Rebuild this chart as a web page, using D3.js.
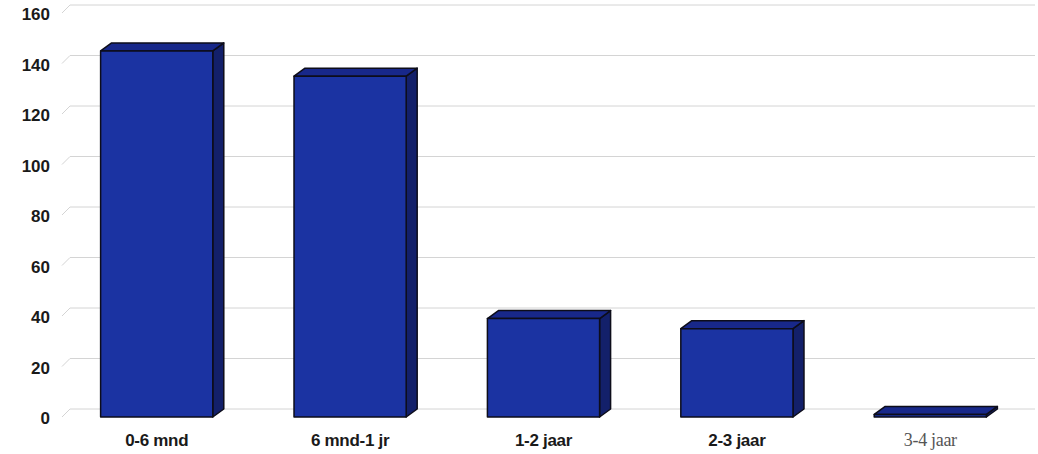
<!DOCTYPE html>
<html>
<head>
    <meta charset="utf-8">
    <title>3D Bar Chart</title>
    <style type="text/css">
        body {
            margin: 0;
            background: #fff;
        }
        .grid {
            fill: none;
            stroke: #d4d4d4;
            stroke-width: 1;
        }
        .ylabel {
            font-family: 'Liberation Sans', Arial, sans-serif;
            font-size: 17px;
            font-weight: 700;
            fill: #1a1a1a;
            text-anchor: end;
        }
        .xlabel {
            font-family: 'Liberation Sans', Arial, sans-serif;
            font-size: 17px;
            font-weight: 700;
            fill: #1a1a1a;
            text-anchor: middle;
            letter-spacing: -0.3px;
        }
        .bar path {
            stroke: #0d0d1a;
            stroke-width: 1.5;
            stroke-linejoin: round;
        }
    </style>
</head>
<body>
<script src="https://d3js.org/d3.v7.min.js"></script>
<script>

    var width = 1038,
        height = 454;

    // data
    var categories = ["0-6 mnd", "6 mnd-1 jr", "1-2 jaar", "2-3 jaar", "3-4 jaar"];
    var values = [145, 135, 39, 35, 1];
    var yTicks = [0, 20, 40, 60, 80, 100, 120, 140, 160];

    // 3d depth offset
    var dx = 11, dy = 8;
    var gdx = 8, gdy = 8;

    var x = d3.scaleBand()
        .domain(categories)
        .range([60, 1027])
        .paddingInner(0.42)
        .paddingOuter(0.21);

    var y = d3.scaleLinear()
        .domain([0, 160])
        .range([417, 13]);

    var svg = d3.select("body").append("svg")
        .attr("width", width)
        .attr("height", height);

    // gridlines (slanted front bit + back wall line)
    svg.append("g").selectAll("path")
        .data(yTicks).enter()
        .append("path")
        .attr("class", "grid")
        .attr("d", function (d) {
            var y0 = y(d);
            return "M62," + y0 + "L" + (62 + gdx) + "," + (y0 - gdy) + "H1035";
        });

    // y labels
    svg.append("g").selectAll("text")
        .data(yTicks).enter()
        .append("text")
        .attr("class", "ylabel")
        .attr("x", 50)
        .attr("y", function (d) { return y(d) + 1; })
        .attr("dy", "0.36em")
        .text(function (d) { return d; });

    // bars
    var bars = svg.append("g").selectAll("g")
        .data(values).enter()
        .append("g")
        .attr("class", "bar");

    function x0(d, i) { return x(categories[i]); }

    // side face
    bars.append("path")
        .attr("fill", "#13206a")
        .attr("d", function (d, i) {
            var xr = x0(d, i) + x.bandwidth(), yt = y(d), yb = y(0);
            return "M" + xr + "," + yb + "L" + xr + "," + yt +
                "L" + (xr + dx) + "," + (yt - dy) + "L" + (xr + dx) + "," + (yb - dy) + "Z";
        });

    // top face
    bars.append("path")
        .attr("fill", "#18288a")
        .attr("d", function (d, i) {
            var xl = x0(d, i), xr = xl + x.bandwidth(), yt = y(d);
            return "M" + xl + "," + yt + "L" + (xl + dx) + "," + (yt - dy) +
                "L" + (xr + dx) + "," + (yt - dy) + "L" + xr + "," + yt + "Z";
        });

    // front face
    bars.append("path")
        .attr("fill", "#1b33a2")
        .attr("d", function (d, i) {
            var xl = x0(d, i), xr = xl + x.bandwidth(), yt = y(d), yb = y(0);
            return "M" + xl + "," + yb + "V" + yt + "H" + xr + "V" + yb + "Z";
        });

    // category labels
    svg.append("g").selectAll("text")
        .data(categories).enter()
        .append("text")
        .attr("class", "xlabel")
        .attr("x", function (d) { return x(d) + x.bandwidth() / 2; })
        .attr("y", 446)
        .style("font-family", function (d, i) { return i === 4 ? "'Liberation Serif', serif" : null; })
        .style("font-weight", function (d, i) { return i === 4 ? 400 : null; })
        .style("font-size", function (d, i) { return i === 4 ? "18px" : null; })
        .style("fill", function (d, i) { return i === 4 ? "#555" : null; })
        .text(function (d) { return d; });

</script>
</body>
</html>
